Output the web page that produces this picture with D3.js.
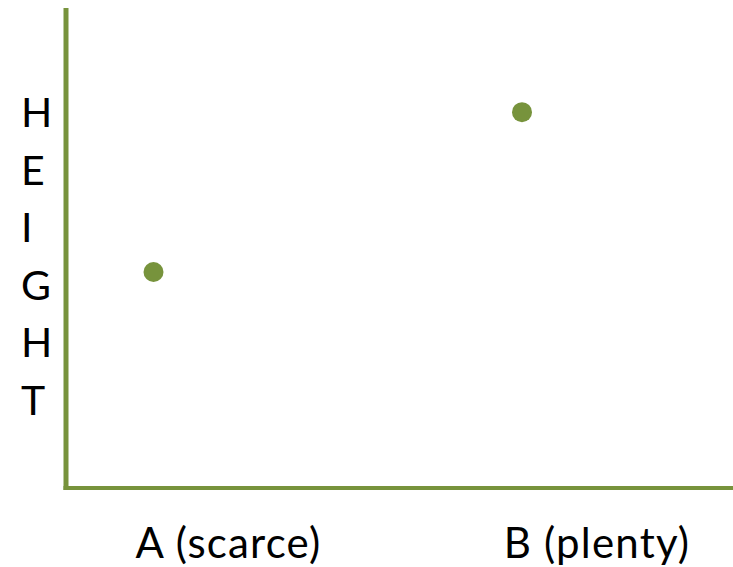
<!DOCTYPE html>
<html><head><meta charset="utf-8">
<script src="https://cdn.jsdelivr.net/npm/d3@7"></script>
<style>html,body{margin:0;padding:0;background:#fff;}svg{display:block;}</style>
</head><body>
<script>
const categories = ["A (scarce)", "B (plenty)"];
const heights = [4.5, 7.83];
const yLetters = ["H", "E", "I", "G", "H", "T"];

const W = 733, H = 567;
const green = "#77933C";
const font = "Lato, 'Open Sans', sans-serif";
const svg = d3.select("body").append("svg").attr("width", W).attr("height", H);

const x = d3.scalePoint().domain(categories).range([153.5, 522]);
const y = d3.scaleLinear().domain([0, 10]).range([488, 8]);

// axes
svg.append("line").attr("x1", 66).attr("x2", 66).attr("y1", y(10)).attr("y2", 490)
  .attr("stroke", green).attr("stroke-width", 5);
svg.append("line").attr("x1", 63.5).attr("x2", W).attr("y1", y(0)).attr("y2", y(0))
  .attr("stroke", green).attr("stroke-width", 4);

// points
svg.selectAll("circle.pt").data(categories).enter().append("circle")
  .attr("class", "pt")
  .attr("cx", d => x(d)).attr("cy", (d, i) => y(heights[i])).attr("r", 10)
  .attr("fill", green);

// category labels
svg.selectAll("text.cat").data(categories).enter().append("text")
  .attr("class", "cat")
  .attr("x", d => x(d) + 75).attr("y", 558)
  .attr("text-anchor", "middle")
  .attr("font-family", font).attr("font-size", 42)
  .attr("letter-spacing", 1.2)
  .attr("fill", "#000")
  .text(d => d);

// vertical axis title
svg.selectAll("text.ylet").data(yLetters).enter().append("text")
  .attr("class", "ylet")
  .attr("x", 21).attr("y", (d, i) => 127 + i * 57.6)
  .attr("text-anchor", "start")
  .attr("font-family", font).attr("font-size", 41)
  .attr("fill", "#000")
  .text(d => d);
</script>
</body></html>
